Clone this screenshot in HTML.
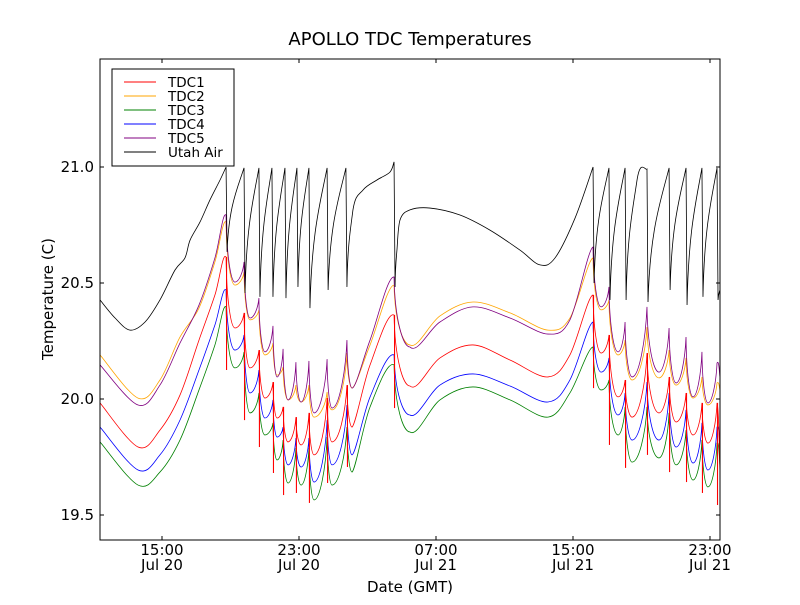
<!DOCTYPE html>
<html><head><meta charset="utf-8"><style>
body{margin:0;background:#fff;}
svg text{font-family:"DejaVu Sans","Liberation Sans",sans-serif;}
</style></head><body>
<svg id="chart" width="800" height="600" viewBox="0 0 800 600" xmlns="http://www.w3.org/2000/svg">
<rect x="0" y="0" width="800" height="600" fill="#fff"/>
<text x="410" y="45" font-size="18" text-anchor="middle">APOLLO TDC Temperatures</text>
<text x="53" y="299" font-size="15" text-anchor="middle" transform="rotate(-90 53 299)">Temperature (C)</text>
<text x="410" y="592" font-size="15" text-anchor="middle">Date (GMT)</text>
<g id="plot"></g>
<g id="axes"></g>
<g id="legend"></g>
</svg>
<script>
const times = [11.38,13.6,14.88,16.05,17.16,18.09,18.74,19.26,19.79,20.14,20.66,21.01,21.48,21.72,22.07,22.36,22.82,23.12,23.58,23.88,24.64,24.93,25.80,26.10,27.15,28.55,29.48,31.23,33.16,35.32,37.54,38.82,40.17,40.64,41.10,41.63,42.04,42.45,43.32,44.02,44.61,45.02,45.60,46.01,46.53,46.88,47.41,47.58];
const tdc1 = [19.983,19.793,19.866,20.017,20.254,20.448,20.612,20.306,20.371,20.134,20.211,20.004,20.073,19.918,19.966,19.815,19.922,19.802,19.940,19.759,20.004,19.815,20.060,19.879,20.147,20.362,20.056,20.177,20.233,20.168,20.095,20.190,20.448,20.198,20.276,20.009,20.082,19.922,20.198,19.940,20.095,19.901,20.026,19.845,19.983,19.810,19.983,19.694];
const tdc2 = [20.190,20.004,20.082,20.267,20.392,20.591,20.763,20.491,20.547,20.341,20.384,20.190,20.241,20.103,20.138,19.996,20.060,19.987,20.060,19.922,20.030,19.953,20.198,20.047,20.233,20.491,20.233,20.358,20.418,20.371,20.297,20.349,20.608,20.384,20.427,20.190,20.254,20.082,20.310,20.091,20.211,20.060,20.177,20.004,20.095,19.974,20.069,20.039];
const tdc3 = [19.815,19.629,19.685,19.823,20.039,20.233,20.397,20.134,20.203,19.940,20.026,19.845,19.897,19.737,19.823,19.638,19.789,19.629,19.789,19.565,19.836,19.629,19.879,19.685,19.966,20.147,19.858,19.996,20.052,19.996,19.922,20.026,20.224,20.039,20.082,19.845,19.966,19.728,19.966,19.746,19.940,19.716,19.866,19.651,19.823,19.621,19.810,19.716];
const tdc4 = [19.879,19.694,19.759,19.909,20.125,20.319,20.470,20.211,20.276,20.026,20.125,19.918,19.996,19.836,19.879,19.716,19.832,19.707,19.832,19.642,19.909,19.716,19.974,19.759,20.009,20.190,19.931,20.060,20.108,20.056,19.987,20.082,20.332,20.116,20.177,19.931,20.026,19.823,20.073,19.823,20.026,19.793,19.953,19.724,19.897,19.694,19.879,19.802];
const tdc5 = [20.147,19.974,20.060,20.241,20.405,20.608,20.793,20.504,20.591,20.349,20.435,20.203,20.315,20.095,20.216,19.996,20.159,19.987,20.164,19.940,20.172,19.961,20.254,20.047,20.254,20.526,20.224,20.332,20.397,20.349,20.280,20.341,20.655,20.397,20.483,20.203,20.332,20.095,20.397,20.116,20.306,20.069,20.267,20.009,20.203,19.983,20.155,20.095];
const spikeTimes = [18.74,19.79,20.66,21.48,22.07,22.82,23.58,24.64,25.80,28.55,40.17,41.10,42.04,43.32,44.61,45.60,46.53,47.41];
const spikeLows = [20.125,19.909,19.793,19.681,19.586,19.595,19.552,19.638,19.707,19.961,20.047,19.802,19.703,19.759,19.685,19.642,19.595,19.543];
const airTimes = [11.38,12.26,13.13,14.01,14.88,15.76,16.34,16.64,17.22,17.80,18.39,18.74,18.80,19.79,19.85,20.66,20.72,21.42,21.48,22.18,22.24,22.88,22.94,23.58,23.64,24.64,24.70,25.74,25.80,26.15,26.74,27.55,28.31,28.55,28.61,28.72,28.90,29.48,30.65,32.40,34.15,35.90,37.07,37.95,39.12,40.17,40.23,41.10,41.16,42.04,42.10,42.74,43.32,43.38,44.61,44.67,45.60,45.66,46.53,46.59,47.41,47.47,47.58];
const airVals = [20.427,20.349,20.297,20.332,20.427,20.556,20.608,20.685,20.763,20.858,20.944,21.000,20.634,20.996,20.457,20.996,20.440,20.996,20.440,20.996,20.435,20.996,20.483,20.996,20.392,20.996,20.470,20.996,20.483,20.815,20.901,20.944,20.978,21.022,20.483,20.642,20.772,20.815,20.823,20.793,20.728,20.642,20.578,20.608,20.780,21.000,20.500,20.996,20.427,20.996,20.427,20.944,20.991,20.418,20.996,20.470,20.996,20.405,20.996,20.440,20.996,20.427,20.470];
const yTicks = [19.5,20.0,20.5,21.0];
const yTickLabels = ["19.5","20.0","20.5","21.0"];
const xTicks = [15,23,31,39,47];
const xTickTimes = ["15:00","23:00","07:00","15:00","23:00"];
const xTickDates = ["Jul 20","Jul 20","Jul 21","Jul 21","Jul 21"];
const seriesNames = ["TDC1","TDC2","TDC3","TDC4","TDC5","Utah Air"];
const seriesColors = ["#ff0000","#ffa500","#008000","#0000ff","#800080","#000000"];

const L=100,R=720,T=59,B=540;
function xs(h){return 162+(h-15)*17.125;}
function ys(v){return 167+(21-v)*232;}
const NS="http://www.w3.org/2000/svg";
const plot=document.getElementById('plot'), axes=document.getElementById('axes'), leg=document.getElementById('legend');
function mk(tag,attrs,parent){const e=document.createElementNS(NS,tag);for(const k in attrs)e.setAttribute(k,attrs[k]);parent.appendChild(e);return e;}

function isMax(v,i){return i>0&&i<v.length-1&&v[i]>v[i-1]&&v[i]>v[i+1];}
function isMin(v,i){return i>0&&i<v.length-1&&v[i]<v[i-1]&&v[i]<v[i+1];}
function buildPath(tArr,vArr,mode){
  const p=tArr.map((t,i)=>[xs(t),ys(vArr[i])]);
  let d='M'+p[0][0].toFixed(2)+','+p[0][1].toFixed(2);
  for(let i=1;i<p.length;i++){
    const a=p[i-1],b=p[i],dx=b[0]-a[0],dy=b[1]-a[1],dt=tArr[i]-tArr[i-1];
    let c1,c2;
    if(mode==='tdc'&&dt<1.3&&((isMax(vArr,i-1)&&isMin(vArr,i))||(isMin(vArr,i-1)&&isMax(vArr,i)))){
      if(dy>0){c1=[a[0]+0.05*dx,a[1]+0.6*dy];c2=[b[0]-0.45*dx,b[1]];}
      else{c1=[a[0]+0.45*dx,a[1]];c2=[b[0]-0.1*dx,b[1]-0.5*dy];}
    } else if(mode==='air'&&dy<0&&dt<1.3&&i>=2&&(tArr[i-1]-tArr[i-2])<0.15&&vArr[i-1]<vArr[i-2]){
      c1=[a[0]+0.1*dx,a[1]+0.55*dy];c2=[b[0]-0.4*dx,b[1]-0.25*dy];
    } else if(dt<0.15){
      d+=' L'+b[0].toFixed(2)+','+b[1].toFixed(2);continue;
    } else {
      const p0=p[i-2]||a,p3=p[i+1]||b;
      const q0=(i>=2&&tArr[i-1]-tArr[i-2]<0.15)?a:p0;
      const q3=(i+1<p.length&&tArr[i+1]-tArr[i]<0.15)?b:p3;
      c1=[a[0]+(b[0]-q0[0])/6,a[1]+(b[1]-q0[1])/6];
      c2=[b[0]-(q3[0]-a[0])/6,b[1]-(q3[1]-a[1])/6];
    }
    d+=' C'+c1.map(n=>n.toFixed(2)).join(',')+' '+c2.map(n=>n.toFixed(2)).join(',')+' '+b[0].toFixed(2)+','+b[1].toFixed(2);
  }
  return d;
}
mk('clipPath',{id:'clip'},plot);
mk('rect',{x:L,y:T,width:R-L,height:B-T},document.getElementById('clip'));
const g=mk('g',{'clip-path':'url(#clip)'},plot);
const tdcData=[tdc1,tdc2,tdc3,tdc4,tdc5];
const lineNames=['tdc1-line','tdc2-line','tdc3-line','tdc4-line','tdc5-line'];
[2,3,0,1,4].forEach(k=>{
  const el=mk('path',{d:buildPath(times,tdcData[k],'tdc'),fill:'none',stroke:seriesColors[k],'stroke-width':'0.8'},g);
  
  
});
spikeTimes.forEach((t,i)=>{
  const idx=times.indexOf(t);
  const top=idx>=0?tdc1[idx]:spikeLows[i];
  const el=mk('line',{x1:xs(t)+0.5,x2:xs(t)+0.5,y1:ys(top),y2:ys(spikeLows[i]),stroke:'#ff0000','stroke-width':'1.1'},g);
  
  
});
const air=mk('path',{d:buildPath(airTimes,airVals,'air'),fill:'none',stroke:'#000','stroke-width':'0.8'},g);



const frame=mk('rect',{x:L,y:T,width:R-L,height:B-T,fill:'none',stroke:'#000','stroke-width':'1'},axes);


yTicks.forEach((v,i)=>{
  const y=ys(v);
  mk('line',{x1:L,x2:L+4,y1:y,y2:y,stroke:'#000'},axes);
  mk('line',{x1:R,x2:R-4,y1:y,y2:y,stroke:'#000'},axes);
  const t=mk('text',{x:L-6,y:y+5,'font-size':'15','text-anchor':'end'},axes);
  t.textContent=yTickLabels[i];
  
  
});
xTicks.forEach((h,i)=>{
  const x=xs(h);
  mk('line',{x1:x,x2:x,y1:B,y2:B-4,stroke:'#000'},axes);
  mk('line',{x1:x,x2:x,y1:T,y2:T+4,stroke:'#000'},axes);
  const t=mk('text',{x:x,y:555,'font-size':'15','text-anchor':'middle'},axes);
  t.textContent=xTickTimes[i];
  
  
  const t2=mk('text',{x:x,y:570,'font-size':'15','text-anchor':'middle'},axes);
  t2.textContent=xTickDates[i];
  
  
});
const lb=mk('rect',{x:112,y:69,width:122,height:97,fill:'#fff',stroke:'#000','stroke-width':'1'},leg);


seriesNames.forEach((n,i)=>{
  const y=82+i*14;
  const e=mk('g',{},leg);
  
  
  mk('line',{x1:124,x2:156,y1:y,y2:y,stroke:seriesColors[i],'stroke-width':'0.9'},e);
  const t=mk('text',{x:168,y:y+5,'font-size':'13.5'},e);
  t.textContent=n;
});
</script>
</body></html>
